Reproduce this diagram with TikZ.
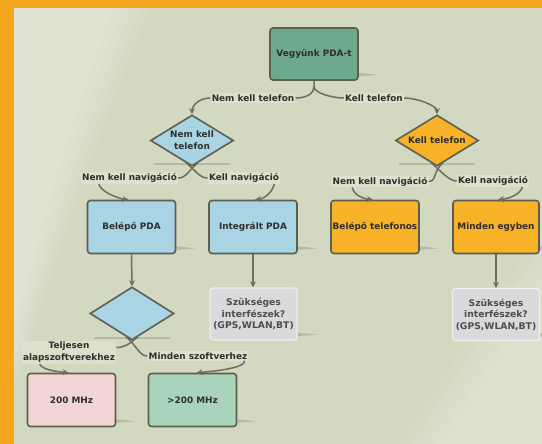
\documentclass[tikz,border=0pt]{standalone}
\usepackage{fontspec}
\setmainfont{DejaVu Sans}
\usetikzlibrary{shapes.geometric,arrows.meta,calc}
\pgfdeclarelayer{bg}
\pgfsetlayers{bg,main}
\definecolor{orangeb}{HTML}{F6A61E}
\definecolor{bgc}{HTML}{D3D8C1}
\definecolor{bgl}{HTML}{E9ECDF}
\definecolor{edge}{HTML}{5E5D51}
\definecolor{connc}{HTML}{6F6D60}
\definecolor{txt}{HTML}{2E2E2E}
\definecolor{greenn}{HTML}{6FA98B}
\definecolor{bluen}{HTML}{A9D4E4}
\definecolor{orangen}{HTML}{F7B228}
\definecolor{grayn}{HTML}{D9DADB}
\definecolor{grayedge}{HTML}{EEEFEF}
\definecolor{pinkn}{HTML}{F1D6D5}
\definecolor{lgreenn}{HTML}{A9D3BA}
\definecolor{lblfill}{HTML}{DCE1CC}
\tikzset{
 every node/.style={text=txt, font=\bfseries\fontsize{8.9}{12}\selectfont},
 box/.style={rectangle, rounded corners=3pt, draw=edge, line width=1.6pt, minimum width=88pt, minimum height=53pt, inner sep=0pt, align=center},
 dia/.style={diamond, shape aspect=1.63, draw=edge, line width=1.6pt, minimum width=83pt, minimum height=51pt, inner sep=0pt, align=center},
 gbox/.style={rectangle, rounded corners=3pt, draw=grayedge, fill=grayn, line width=1.2pt, minimum width=87pt, minimum height=52pt, inner sep=0pt, align=center, text=txt!85!white, font=\bfseries\fontsize{9.2}{11.5}\selectfont},
 lbl/.style={fill=lblfill, inner sep=1.2pt, align=center},
 conn/.style={draw=connc, line width=1.5pt},
 arr/.style={conn, -{Stealth[length=6pt,width=6pt]}},
 shad/.style={fill=black!40!bgc, opacity=.35},
 shadline/.style={draw=black!35!bgc, line width=1.6pt, opacity=.4},
}
\begin{document}
\begin{tikzpicture}[x=1pt,y=-1pt]
\useasboundingbox (0,0) rectangle (542,444);
\begin{pgfonlayer}{bg}
\fill[orangeb] (0,0) rectangle (542,444);
\fill[bgc] (14,8) rectangle (542,444);
\foreach \k in {0,1,2,3,4}{
  \fill[bgl, opacity=.18] (14,8) -- ({150-9*\k},8) .. controls ({105-8*\k},110) and ({55-6*\k},260) .. (14,{390-15*\k}) -- cycle;
  \fill[bgl, opacity=.15] (542,{230+18*\k}) -- (542,444) -- ({400+12*\k},444) -- cycle;
}
\end{pgfonlayer}

\node[box, fill=greenn, minimum height=52pt] (top) at (314,54) {Vegyünk PDA-t};
\node[dia, fill=bluen] (d1) at (192,140.5) {Nem kell\\telefon};
\node[dia, fill=orangen] (d2) at (437,140.5) {Kell telefon};
\node[box, fill=bluen] (b1) at (131.5,227) {Belépő PDA};
\node[box, fill=bluen] (b2) at (253,227) {Integrált PDA};
\node[box, fill=orangen] (b3) at (375,227) {Belépő telefonos};
\node[box, fill=orangen, minimum width=86pt] (b4) at (496,227) {Minden egyben};
\node[gbox] (g1) at (253.5,314) {Szükséges\\interfészek?\\(GPS,WLAN,BT)};
\node[gbox] (g2) at (496,314.5) {Szükséges\\interfészek?\\(GPS,WLAN,BT)};
\node[dia, fill=bluen, minimum width=84pt, minimum height=53pt] (d3) at (132,313.5) {};
\node[box, fill=pinkn] (p1) at (71.5,400) {200 MHz};
\node[box, fill=lgreenn] (p2) at (192.5,400) {>200 MHz};

\begin{pgfonlayer}{bg}
\foreach \n in {top,b1,b2,b3,b4,g1,g2,p1,p2}{
  \fill[shad] ($(\n.south east)+(0,-8)$) -- ++(19,2) -- ++(-19,1.5) -- cycle;
}
\foreach \n in {d1,d2,d3}{
  \draw[shadline] ($(\n.south)+(-38,-3)$) -- ($(\n.south)+(38,-3)$);
}
\end{pgfonlayer}

\node[lbl] (l1) at (253,98) {Nem kell telefon};
\node[lbl] (l2) at (374,98) {Kell telefon};
\node[lbl] (l3) at (129.5,178) {Nem kell navigáció};
\node[lbl] (l4) at (244,178) {Kell navigáció};
\node[lbl] (l5) at (380,181.5) {Nem kell navigáció};
\node[lbl] (l6) at (493,181) {Kell navigáció};
\node[lbl] (l7) at (69,352.5) {Teljesen\\alapszoftverekhez};
\node[lbl] (l8) at (198,356) {Minden szoftverhez};

\coordinate (split) at ($(top.south)+(0,6)$);
\begin{pgfonlayer}{bg}
\draw[conn] (top.south) -- (split) .. controls +(0,6) and +(12,0) .. (l1.east);
\draw[conn] (split) .. controls +(0,6) and +(-12,0) .. (l2.west);
\end{pgfonlayer}
\draw[arr] (l1.west) .. controls +(-12,0) and +(0,-8) .. (d1.north);
\draw[arr] (l2.east) .. controls +(14,0) and +(0,-8) .. (d2.north);

\draw[conn] ($(d1.south)+(6,-4)$) .. controls ($(d1.south)+(-4,4)$) and ($(l3.east)+(8,0)$) .. (l3.east);
\draw[conn] ($(d1.south)+(-6,-4)$) .. controls ($(d1.south)+(4,4)$) and ($(l4.west)+(-8,0)$) .. (l4.west);
\draw[conn] ($(d2.south)+(6,-4)$) .. controls ($(d2.south)+(-4,4)$) and ($(l5.east)+(8,0)$) .. (l5.east);
\draw[conn] ($(d2.south)+(-6,-4)$) .. controls ($(d2.south)+(4,4)$) and ($(l6.west)+(-8,0)$) .. (l6.west);
\draw[conn] ($(d3.south)+(6,-4)$) .. controls ($(d3.south)+(-4,4)$) and ($(l7.east)+(8,-5)$) .. ($(l7.east)+(0,-5)$);
\draw[conn] ($(d3.south)+(-6,-4)$) .. controls ($(d3.south)+(4,4)$) and ($(l8.west)+(-8,0)$) .. (l8.west);

\draw[arr] ($(l3.south west)+(18,0)$) .. controls +(2,8) and +(-10,-1) .. ($(b1.north)+(-3,0)$);
\draw[arr] ($(l4.south east)+(-6,0)$) .. controls +(-2,8) and +(10,-1) .. ($(b2.north)+(2,0)$);
\draw[arr] ($(l5.south west)+(21,0)$) .. controls +(2,8) and +(-10,-1) .. ($(b3.north)+(-2,0)$);
\draw[arr] ($(l6.south east)+(-7,0)$) .. controls +(-2,8) and +(10,-1) .. ($(b4.north)+(2,0)$);
\draw[arr] ($(l7.south west)+(18,0)$) .. controls +(3,6) and +(-10,-1) .. ($(p1.north)+(-3,0)$);
\draw[arr] ($(l8.south east)+(-4,0)$) .. controls +(0,8) and +(12,-1) .. ($(p2.north)+(4,0)$);

\draw[arr] (b1.south) -- (d3.north);
\draw[arr] (b2.south) -- (b2.south |- g1.north);
\draw[arr] (b4.south) -- (b4.south |- g2.north);
\end{tikzpicture}
\end{document}
